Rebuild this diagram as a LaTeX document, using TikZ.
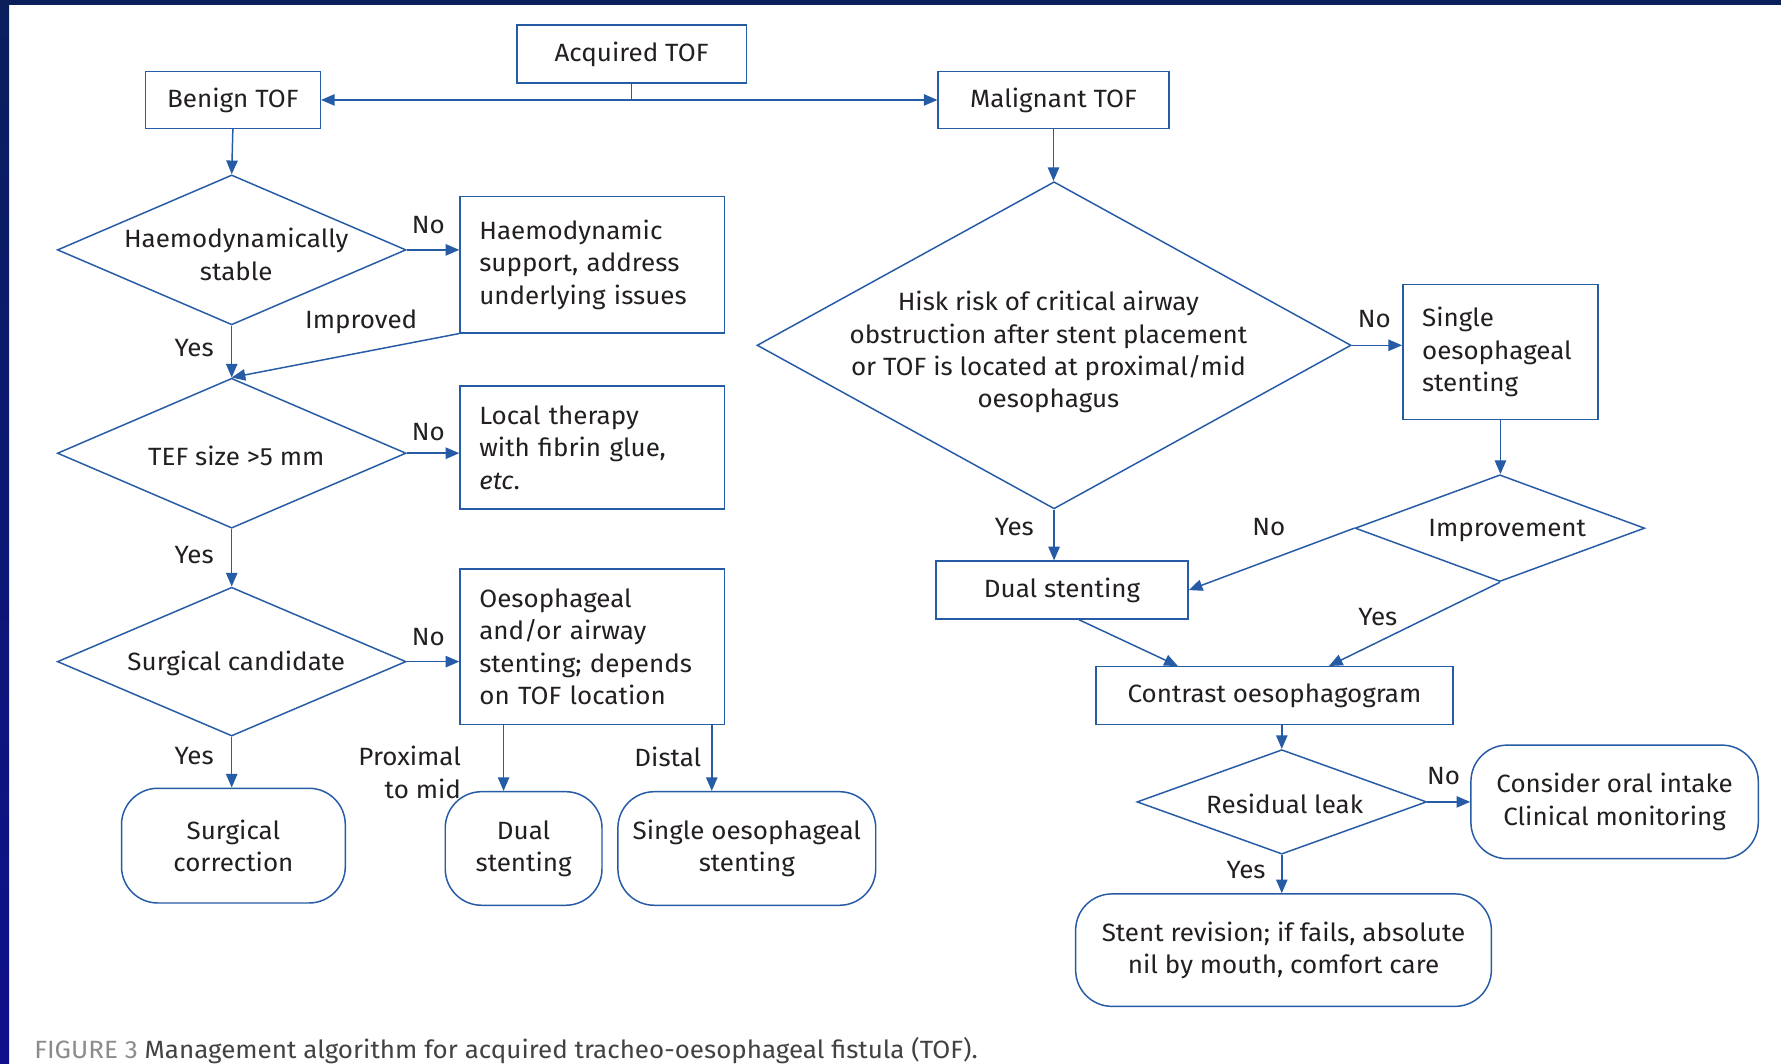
\documentclass[tikz,border=0pt]{standalone}
\usepackage{fontspec}
\setmainfont{Fira Sans}[FakeStretch=1.04]
\usetikzlibrary{arrows.meta,shapes.geometric,calc}
\definecolor{lb}{HTML}{265BA5}
\definecolor{tx}{HTML}{231F20}
\definecolor{navy}{HTML}{0A1F5C}
\definecolor{navyb}{HTML}{10108C}
\definecolor{capgray}{HTML}{8C8C8C}
\begin{document}
\begin{tikzpicture}[x=1pt,y=-1pt,
  font=\fontsize{22}{28.5}\selectfont, text=tx,
  box/.style={draw=lb, line width=1.3pt, rectangle, inner sep=0pt, align=center},
  lbox/.style={box, align=left},
  rbox/.style={box, rounded corners=32pt},
  dia/.style={draw=lb, line width=1.3pt, diamond, inner sep=0pt},
  lab/.style={inner sep=0pt, align=center},
  arr/.style={draw=lb, line width=1.3pt, -{Triangle[length=12pt,width=10pt]}},
  ln/.style={draw=lb, line width=1.3pt}]
\fill[white] (0,0) rectangle (1568,936);
\useasboundingbox (0,0) rectangle (1568,936);
\shade[top color=navy, bottom color=navyb] (0,0) rectangle (8,936);
\fill[navy] (0,0) rectangle (1568,4);

% top
\node[box, minimum width=202pt, minimum height=51pt] (acq) at (556,47.5) {Acquired TOF};
\node[box, minimum width=154pt, minimum height=50pt] (ben) at (205,88) {Benign TOF};
\node[box, minimum width=203pt, minimum height=50pt] (mal) at (927.5,88) {Malignant TOF};

% left column
\node[dia, minimum width=307pt, minimum height=132pt] (d1) at (204,220) {};
\node[lab] (t1) at (208,224) {Haemodynamically\\stable};
\node[dia, minimum width=307pt, minimum height=132pt] (d2) at (204,399) {};
\node[lab] (t2) at (208,401) {TEF size >5 mm};
\node[dia, minimum width=307pt, minimum height=131pt] (d3) at (204,582.5) {};
\node[lab] (t3) at (208,584) {Surgical candidate};

\node[lbox, minimum width=233pt, minimum height=120pt, text width=199pt] (haem) at (521.5,233) {Haemodynamic\\support, address\\underlying issues};
\node[lbox, minimum width=233pt, minimum height=108pt, text width=199pt] (loc) at (521.5,394) {Local therapy\\with fibrin glue,\\\textit{etc}.};
\node[lbox, minimum width=233pt, minimum height=137pt, text width=199pt] (oes) at (521.5,569.5) {Oesophageal\\and/or airway\\stenting; depends\\on TOF location};

\node[rbox, minimum width=197pt, minimum height=101pt] (surg) at (205.5,744.5) {Surgical\\correction};
\node[rbox, minimum width=138pt, minimum height=100pt] (dual1) at (461,747) {Dual\\stenting};
\node[rbox, minimum width=227pt, minimum height=100pt] (sing1) at (657.5,747) {Single oesophageal\\stenting};

% right column
\node[dia, minimum width=523pt, minimum height=288pt] (d4) at (928,304) {};
\node[lab] (t4) at (923,310) {Hisk risk of critical airway\\obstruction after stent placement\\or TOF is located at proximal/mid\\oesophagus};
\node[lbox, minimum width=172pt, minimum height=119pt, text width=138pt] (sing2) at (1321,310) {Single\\oesophageal\\stenting};
\node[dia, minimum width=255pt, minimum height=94pt] (d5) at (1320.5,465) {};
\node[lab] (t5) at (1327,467) {Improvement};
\node[box, minimum width=222pt, minimum height=51pt] (dual2) at (935,519.5) {Dual stenting};
\node[box, minimum width=314pt, minimum height=51pt] (con) at (1122,612.5) {Contrast oesophagogram};
\node[dia, minimum width=255pt, minimum height=92pt] (d6) at (1128.5,706) {};
\node[lab] (t6) at (1131,708) {Residual leak};
\node[rbox, minimum width=253pt, minimum height=100pt] (cons) at (1421.5,706) {Consider oral intake\\Clinical monitoring};
\node[rbox, minimum width=366pt, minimum height=99pt] (stent) at (1130,836.5) {Stent revision; if fails, absolute\\nil by mouth, comfort care};

% connectors top
\draw[arr] (acq.south) |- (ben.east);
\draw[arr] (acq.south) |- (mal.west);

% left connectors
\draw[arr] (ben.south) -- (d1.north);
\draw[arr] (d1.east) -- (d1.east -| haem.west);
\draw[arr] (haem.south west) -- (d2.north);
\draw[arr] (d1.south) -- (d2.north);
\draw[arr] (d2.east) -- (d2.east -| loc.west);
\draw[arr] (d2.south) -- (d3.north);
\draw[arr] (d3.east) -- (d3.east -| oes.west);
\draw[arr] (d3.south) -- (d3.south |- surg.north);
\coordinate (p1) at ($(oes.south west)+(39,0)$);
\coordinate (p2) at ($(oes.south east)+(-12,0)$);
\draw[arr] (p1) -- (p1 |- dual1.north);
\draw[arr] (p2) -- (p2 |- sing1.north);

% right connectors
\draw[arr] (mal.south) -- (mal.south |- d4.north);
\draw[arr] (d4.east) -- (d4.east -| sing2.west);
\draw[arr] (d4.south) -- (d4.south |- dual2.north);
\draw[arr] (sing2.south) -- (sing2.south |- d5.north);
\draw[arr] (d5.west) -- (dual2.east);
\coordinate (c1) at ($(con.north)+(48,0)$);
\coordinate (c2) at ($(con.north)+(-85,0)$);
\coordinate (c3) at ($(dual2.south)+(15,0)$);
\draw[arr] (d5.south) -- (c1);
\draw[arr] (c3) -- (c2);
\draw[arr] (d6.north |- con.south) -- (d6.north);
\draw[arr] (d6.east) -- (d6.east -| cons.west);
\draw[arr] (d6.south) -- (d6.south |- stent.north);

% labels
\node[lab] (l1) at (377,198) {No};
\node[lab] (l2) at (318,283) {Improved};
\node[lab] (l3) at (171,306) {Yes};
\node[lab] (l4) at (377,380) {No};
\node[lab] (l5) at (171,489) {Yes};
\node[lab] (l6) at (377,561) {No};
\node[lab] (l7) at (171,666) {Yes};
\node[lab, align=right, anchor=east] (l8) at (406,680) {Proximal\\to mid};
\node[lab] (l9) at (588,666) {Distal};
\node[lab] (l10) at (1210,281) {No};
\node[lab] (l11) at (893,464) {Yes};
\node[lab] (l12) at (1117,464) {No};
\node[lab] (l13) at (1213,543) {Yes};
\node[lab] (l14) at (1271,683) {No};
\node[lab] (l15) at (1097,766) {Yes};

% caption
\node[anchor=base west, inner sep=0pt, text=tx!85] (cap) at (30,932) {\textcolor{capgray}{FIGURE 3} Management algorithm for acquired tracheo-oesophageal fistula (TOF).};
\end{tikzpicture}
\end{document}
